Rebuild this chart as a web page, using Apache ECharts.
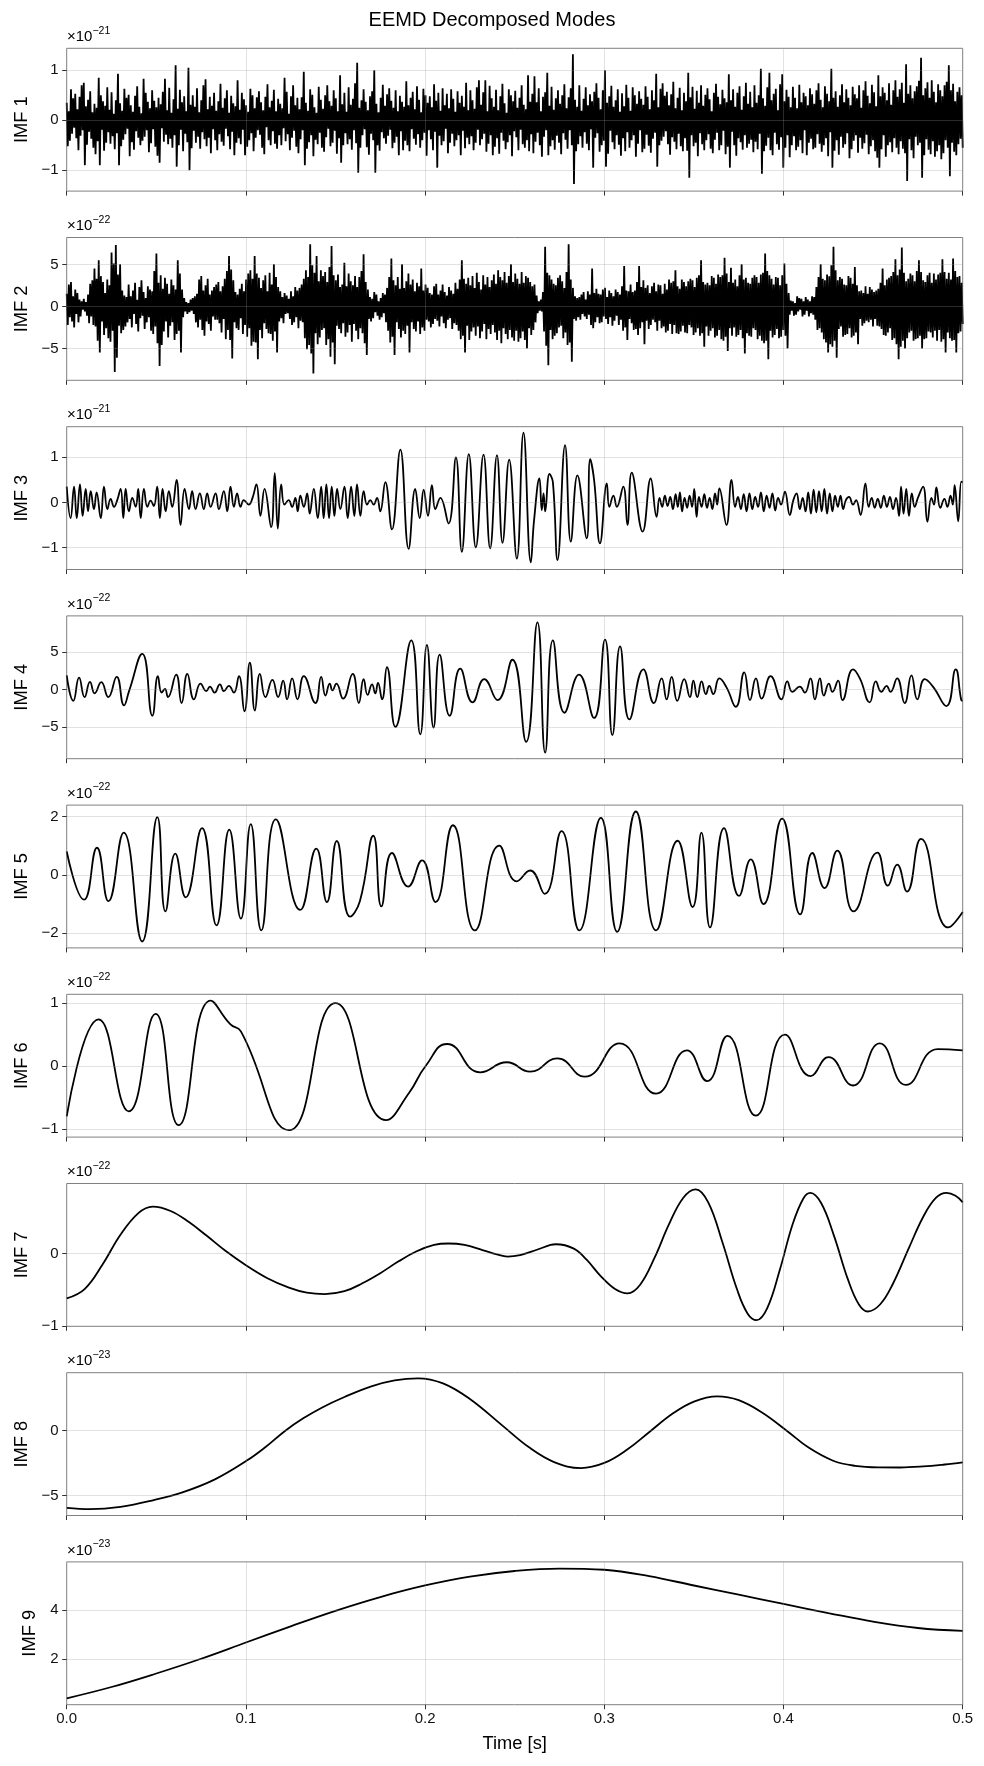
<!DOCTYPE html>
<html>
<head>
<meta charset="utf-8">
<script src="https://cdn.jsdelivr.net/npm/echarts@6/dist/echarts.min.js"></script>
<style>
html,body{margin:0;padding:0;background:#fff;}
#c{width:984px;height:1766px;}
</style>
</head>
<body>
<div id="c"></div>
<script>
// ---------------- DATA ----------------
const chartTitle = 'EEMD Decomposed Modes';
const xAxisName = 'Time [s]';
const duration = 0.5;                       // seconds
const xTickValues = [0, 0.1, 0.2, 0.3, 0.4, 0.5];
const modeNames = ['IMF 1','IMF 2','IMF 3','IMF 4','IMF 5','IMF 6','IMF 7','IMF 8','IMF 9'];
const exponents = [-21, -22, -21, -22, -22, -22, -22, -23, -23];
const yTickValues = [[-1,0,1],[-5,0,5],[-1,0,1],[-5,0,5],[-2,0,2],[-1,0,1],[-1,0],[-5,0],[2,4]];
const yRanges = [[-1.42,1.44],[-8.8,8.2],[-1.49,1.68],[-9.26,9.88],[-2.5,2.39],[-1.13,1.14],[-1.005,0.97],[-6.52,4.46],[0.15,5.96]];

// IMF 1 (x1e-21), evenly sampled over the 0.5 s record
const imf1 = [
.35,-.52,.18,-.41,.62,-.27,.44,-.15,.53,-.36,.22,-.6,.47,-.31,.7,-.2,.75,-.9,.28,-.49,
.41,-.23,.58,-.37,.16,-.55,.33,-.68,.25,-.42,.85,-.9,.5,-.19,.38,-.61,.29,-.45,.66,-.24,
.21,-.47,.56,-.32,.13,-.58,.4,-.26,.93,-.9,.34,-.52,.19,-.39,.63,-.28,.45,-.17,.51,-.72,
.3,-.44,.17,-.59,.49,-.22,.68,-.35,.27,-.5,.14,-.41,.83,-.33,.55,-.2,.37,-.64,.24,-.46,
.6,-.18,.39,-.53,.26,-.71,.45,-.85,.32,-.16,.57,-.43,.83,-.29,.2,-.48,.65,-.37,.15,-.55,
.42,-.3,1.1,-.93,.23,-.5,.61,-.19,.36,-.62,.48,-.27,.18,-.44,1.05,-1.0,.31,-.56,.5,-.21,
.27,-.45,.64,-.33,.16,-.57,.4,-.24,.7,-.38,.82,-.52,.22,-.35,.47,-.66,.29,-.18,.55,-.4,
.19,-.6,.38,-.28,.73,-.43,.25,-.51,.44,-.17,.6,-.32,.15,-.58,.49,-.23,.34,-.7,.28,-.45,
.8,-.36,.21,-.48,.55,-.19,.42,-.7,.3,-.53,.17,-.4,.63,-.26,.5,-.62,.24,-.35,.46,-.2,
.58,-.29,.36,-.55,.2,-.68,.47,-.14,.72,-.4,.26,-.5,.39,-.22,.61,-.47,.18,-.57,.43,-.3,
.33,-.5,.24,-.16,.85,-.42,.57,-.28,.13,-.6,.48,-.35,.7,-.21,.3,-.53,.45,-.66,.22,-.38,
.46,-.2,.97,-.9,.35,-.57,.19,-.44,.62,-.3,.51,-.72,.26,-.39,.15,-.48,.67,-.25,.41,-.55,
.23,-.63,.5,-.34,.7,-.17,.38,-.52,.29,-.45,.6,-.21,.44,-.67,.18,-.36,.9,-.85,.32,-.5,
.55,-.26,.17,-.48,.66,-.38,.31,-.59,.43,-.2,.74,-.46,1.15,-1.05,.25,-.55,.4,-.3,.62,-.18,
.37,-.54,.2,-.69,.48,-.27,.58,-.4,1.0,-1.05,.33,-.5,.16,-.61,.45,-.24,.71,-.36,.29,-.47,
.52,-.31,.64,-.19,.39,-.56,.25,-.45,.6,-.33,.18,-.7,.49,-.22,.37,-.6,.27,-.41,.78,-.5,
.3,-.62,.45,-.18,.57,-.37,.22,-.49,.68,-.28,.41,-.55,.16,-.4,.63,-.25,.5,-.71,.35,-.2,
.48,-.38,.26,-.6,.72,-.23,.39,-.95,.55,-.31,.19,-.5,.64,-.42,.3,-.17,.53,-.66,.24,-.45,
.62,-.27,.43,-.52,.17,-.4,.58,-.3,.35,-.7,.49,-.21,.27,-.56,.75,-.35,.2,-.48,.6,-.32,
.4,-.6,.23,-.45,.66,-.19,.8,-.5,.31,-.38,.56,-.27,.8,-.63,.18,-.47,.69,-.3,.44,-.7,
.27,-.53,.61,-.36,.2,-.67,.48,-.25,.73,-.41,.34,-.58,.15,-.44,.62,-.3,.5,-.72,.38,-.22,
.59,-.34,.25,-.6,.45,-.19,.7,-.48,.31,-.55,.22,-.4,.9,-.62,.37,-.28,.53,-.66,.88,-.43,
.36,-.25,.64,-.5,.18,-.73,.47,-.33,.56,-.2,.95,-.7,.29,-.52,.67,-.4,.21,-.59,.44,-.31,
.6,-.45,.33,-.68,.5,-.26,.72,-.39,.24,-.57,.46,-.2,.64,-.5,1.32,-1.28,.41,-.62,.27,-.48,
.7,-.32,.19,-.55,.43,-.24,.66,-.47,.3,-.6,.52,-.18,.38,-.95,.57,-.35,.74,-.26,.45,-.63,
.22,-.5,.6,-.41,1.0,-.93,.35,-.67,.48,-.21,.69,-.44,.27,-.58,.4,-.3,.62,-.49,.17,-.71,
.54,-.36,.28,-.62,.71,-.24,.45,-.55,.19,-.4,.66,-.3,.5,-.73,.33,-.47,.58,-.2,.43,-.64,
.31,-.57,.68,-.29,.47,-.51,.22,-.65,.6,-.37,.4,-.25,.93,-.93,.26,-.5,.63,-.41,.74,-.33,
.49,-.22,.57,-.48,.3,-.69,.52,-.34,.77,-.43,.24,-.58,.45,-.27,.65,-.52,.2,-.62,.55,-.36,
.38,-.61,.95,-1.15,.46,-.3,.67,-.52,.23,-.45,.59,-.72,.35,-.26,.7,-.48,.29,-.6,.51,-.4,
.64,-.28,.42,-.57,.18,-.66,.55,-.39,.73,-.25,.47,-.6,.32,-.5,.61,-.21,.44,-.68,.36,-.53,
.92,-.95,.4,-.23,.62,-.5,.27,-.71,.55,-.36,.68,-.44,.21,-.59,.48,-.3,.75,-.55,.33,-.47,
.57,-.39,.26,-.64,.7,-.43,.35,-.58,.5,-.27,1.03,-1.07,.44,-.62,.29,-.51,.66,-.35,.95,-.6,
.4,-.7,.53,-.25,.63,-.48,.2,-.59,.72,-.34,.92,-.95,.38,-.55,.61,-.3,.47,-.74,.26,-.5,
.67,-.32,.45,-.6,.24,-.53,.71,-.4,.36,-.66,.55,-.2,.48,-.7,.3,-.45,.64,-.37,.52,-.58,
.33,-.55,.6,-.28,.74,-.47,.41,-.63,.26,-.5,.68,-.36,.53,-.72,.38,-.24,1.03,-.95,.45,-.61,
.58,-.4,.27,-.69,.5,-.33,.72,-.55,.36,-.48,.62,-.26,.45,-.76,.3,-.58,.67,-.41,.52,-.3,
.44,-.65,.7,-.35,.25,-.57,.6,-.46,.78,-.29,.49,-.68,.34,-.52,.71,-.4,.56,-.62,.28,-.75,
.9,-.95,.48,-.58,.66,-.3,.55,-.73,.4,-.5,.74,-.44,.31,-.64,.6,-.36,.8,-.55,.47,-.68,
.62,-.42,.75,-.57,.35,-.66,1.12,-1.22,.53,-.38,.7,-.6,.44,-.76,.58,-.33,.68,-.5,.79,-.45,
1.25,-1.15,.5,-.7,.64,-.38,.76,-.59,.45,-.68,.8,-.42,.57,-.73,.36,-.62,.72,-.5,.6,-.78,
.48,-.66,.7,-.4,.77,-.55,1.1,-1.12,.6,-.45,.73,-.63,.38,-.7,.57,-.48,.66,-.37,.5,-.55
];

// IMF 2 (x1e-22), evenly sampled
const imf2 = [
1.5,-2.2,2.6,-1.3,2.9,-1.8,1.2,-2.5,2.0,-0.9,1.6,-1.9,0.8,-1.2,0.6,-0.4,0.9,-0.6,0.5,-1.1,
1.4,-2.0,2.7,-1.2,3.1,-2.2,4.5,-2.4,3.3,-4.1,5.5,-5.5,3.6,-1.8,2.9,-3.4,1.6,-2.6,3.2,-3.8,
2.5,-4.2,6.4,-2.9,5.1,-7.8,7.3,-6.1,3.8,-2.3,5.0,-3.2,1.9,-2.8,1.3,-2.4,1.1,-1.9,2.6,-1.5,
1.2,-2.5,1.9,-0.9,2.8,-2.1,0.8,-3.0,2.3,-1.4,3.1,-1.1,1.7,-2.7,1.0,-1.9,2.4,-1.3,2.0,-2.9,
1.8,-3.3,4.2,-2.4,6.3,-4.4,2.8,-7.1,3.7,-4.6,2.1,-3.0,3.4,-1.8,2.7,-3.7,1.5,-2.3,3.2,-1.9,
2.5,-4.0,2.0,-3.3,5.5,-2.9,3.9,-5.5,2.0,-1.3,1.0,-0.6,0.5,-0.9,0.4,-0.7,0.8,-0.5,1.0,-0.9,
1.2,-1.9,1.5,-2.5,3.2,-1.6,3.6,-2.8,1.9,-3.5,2.5,-1.8,3.3,-2.1,1.4,-2.9,1.9,-1.2,2.3,-1.6,
2.6,-1.6,2.9,-2.0,1.8,-3.1,2.4,-1.5,3.3,-3.9,4.2,-2.8,6.0,-4.0,4.4,-6.2,3.1,-1.9,1.7,-2.6,
1.4,-2.8,2.1,-1.4,2.7,-3.3,1.8,-2.2,3.2,-3.6,3.9,-2.6,4.3,-4.7,3.3,-4.2,6.0,-4.3,3.9,-6.3,
3.4,-2.8,2.2,-3.8,3.1,-2.0,3.7,-2.7,1.8,-3.2,4.0,-3.3,2.6,-4.1,5.0,-3.0,3.5,-5.5,2.3,-1.8,
1.8,-1.4,1.1,-2.0,1.6,-0.9,1.3,-0.8,0.9,-1.5,1.8,-2.2,1.2,-1.9,2.3,-1.3,1.9,-2.6,2.2,-1.7,
2.6,-1.9,3.3,-3.8,4.3,-5.1,3.5,-4.6,7.4,-5.6,4.9,-8.0,4.0,-3.2,6.0,-4.5,3.0,-3.7,4.3,-2.8,
3.6,-2.6,4.1,-4.6,2.9,-3.9,4.7,-6.0,7.2,-4.3,3.7,-6.9,3.1,-2.3,3.8,-2.7,2.3,-3.2,2.6,-2.0,
5.2,-3.6,2.4,-3.1,3.9,-2.2,3.0,-4.2,2.5,-2.1,3.6,-2.9,2.3,-3.9,3.5,-2.6,4.2,-3.2,6.2,-4.4,
2.9,-5.8,2.0,-1.5,1.1,-1.8,0.9,-1.4,1.7,-0.7,1.4,-1.1,0.6,-1.6,1.0,-1.3,1.6,-0.8,1.4,-1.9,
2.2,-2.9,3.5,-4.3,5.7,-3.6,3.1,-5.8,2.5,-1.9,3.5,-2.7,2.1,-3.7,5.0,-2.9,2.2,-3.3,3.0,-2.3,
3.9,-5.5,2.6,-1.9,3.2,-2.7,1.8,-3.0,2.8,-1.8,2.4,-3.3,4.5,-2.5,1.9,-2.9,2.6,-1.6,2.2,-1.8,
1.6,-2.5,1.4,-2.1,2.4,-1.5,2.7,-1.7,1.4,-2.4,1.9,-1.2,2.6,-2.0,1.7,-2.6,1.3,-1.6,2.3,-1.4,
1.9,-2.7,1.5,-2.0,2.8,-2.2,2.1,-2.9,3.2,-3.9,5.5,-3.5,3.3,-5.5,2.7,-2.3,3.4,-4.0,2.5,-3.0,
3.6,-2.5,2.2,-3.5,4.0,-2.4,2.9,-3.8,2.0,-3.0,3.7,-2.1,2.6,-3.9,3.5,-2.7,2.3,-3.3,3.1,-2.2,
3.8,-3.1,2.7,-4.0,4.3,-2.9,3.5,-4.4,3.1,-2.6,4.1,-3.3,2.8,-3.9,3.6,-2.8,5.0,-3.7,2.9,-4.1,
3.9,-2.9,3.3,-4.2,2.7,-3.8,4.1,-3.0,2.8,-4.0,3.6,-5.0,3.4,-2.6,2.9,-3.4,2.4,-2.8,2.6,-1.9,
1.3,-0.8,0.6,-0.5,0.8,-0.6,1.7,-3.0,7.1,-4.7,4.0,-7.0,3.7,-2.8,3.2,-3.9,2.7,-3.5,2.5,-3.2,
3.4,-2.5,3.7,-2.3,3.0,-3.8,2.2,-3.1,4.1,-4.6,7.4,-4.3,3.2,-6.6,2.2,-1.5,1.2,-1.7,1.0,-1.3,
1.1,-1.6,1.4,-0.9,1.7,-1.2,0.8,-1.5,1.8,-1.0,1.4,-2.2,4.5,-2.6,1.6,-1.9,2.1,-1.3,1.5,-2.0,
1.4,-1.9,2.0,-1.2,2.2,-1.5,1.1,-2.1,1.9,-1.3,1.6,-2.3,1.2,-1.7,2.0,-1.1,1.7,-2.2,1.4,-1.6,
2.4,-2.9,4.8,-2.5,1.9,-4.0,1.8,-1.5,2.6,-2.0,1.7,-2.8,1.9,-2.7,2.9,-3.4,4.8,-2.6,2.3,-1.9,
3.1,-4.5,2.2,-1.7,2.5,-2.7,1.6,-2.2,2.4,-1.6,2.8,-1.9,1.8,-2.9,2.6,-1.7,2.5,-2.6,1.5,-2.4,
2.7,-3.1,2.0,-2.9,3.2,-2.1,2.8,-3.3,3.0,-2.2,4.3,-3.2,2.4,-3.3,2.1,-3.0,3.2,-2.3,2.9,-3.1,
2.4,-3.2,3.0,-2.2,3.3,-2.5,3.1,-3.4,2.3,-3.1,3.4,-2.6,3.7,-3.5,5.5,-3.2,2.9,-4.8,2.6,-2.4,
2.8,-3.5,2.5,-2.9,3.6,-2.6,3.4,-3.7,2.7,-3.5,3.8,-2.8,3.5,-3.9,3.7,-4.1,5.8,-3.6,3.9,-5.3,
2.9,-2.6,4.6,-3.5,2.8,-2.5,3.2,-3.6,2.4,-3.4,3.7,-2.8,5.0,-3.8,3.2,-5.6,3.4,-3.2,2.8,-3.5,
2.7,-3.6,3.4,-2.6,3.7,-2.8,3.5,-3.9,2.8,-3.5,3.8,-4.1,4.0,-4.4,6.3,-4.1,4.2,-6.3,3.7,-2.9,
3.3,-3.7,2.6,-3.4,3.5,-2.7,3.4,-3.8,2.5,-3.6,3.7,-2.8,5.1,-3.5,2.7,-5.0,1.6,-1.0,0.7,-0.5,
0.6,-1.1,0.4,-1.0,1.2,-0.6,1.0,-0.4,0.9,-1.2,0.6,-1.0,1.1,-0.5,0.8,-1.2,0.6,-0.8,1.2,-1.0,
1.1,-1.6,2.3,-2.8,3.5,-2.6,5.0,-3.1,3.3,-3.9,3.1,-4.3,3.8,-5.5,3.6,-4.5,4.9,-4.8,7.1,-4.1,
4.3,-6.1,3.1,-2.7,3.5,-2.4,3.3,-3.6,2.6,-3.4,2.5,-3.3,3.6,-2.6,3.4,-3.7,2.7,-3.5,4.7,-3.1,
2.5,-4.5,1.8,-1.5,1.9,-2.3,1.6,-2.0,2.4,-1.7,1.5,-1.9,2.3,-1.6,2.0,-2.4,1.7,-1.5,1.9,-2.3,
2.1,-2.4,2.8,-2.7,4.5,-3.4,2.5,-3.5,3.2,-3.1,3.4,-2.6,3.6,-4.0,4.1,-3.8,5.6,-4.5,3.7,-6.3,
4.4,-4.8,7.0,-4.1,4.0,-5.0,3.0,-3.8,3.3,-3.1,3.9,-2.9,3.7,-4.1,3.0,-3.9,4.2,-3.8,5.5,-3.5,
4.1,-5.0,3.1,-3.9,2.9,-3.8,3.7,-3.0,4.0,-3.1,2.8,-3.7,3.9,-2.9,3.2,-4.1,3.8,-2.8,4.0,-4.2,
5.6,-3.9,4.1,-5.5,3.3,-3.1,4.0,-3.8,3.2,-4.1,5.7,-4.0,4.2,-5.5,3.5,-3.2,3.6,-3.0,2.8,-2.1
];

// IMF 3 (x1e-21): [time ms, value] at turning points
const imf3 = [
[0,.35],[2.2,-.35],[4.1,.35],[5.6,-.35],[7.4,.4],[8.9,-.3],[10.6,.3],[11.9,-.2],[13.4,.25],[15.2,-.15],
[16.7,.22],[19,-.35],[20.8,.35],[22.7,-.15],[24.5,.08],[26.4,-.1],[28.2,.05],[30.1,.3],[31.6,-.35],[32.9,.3],
[34.7,-.2],[36.6,.1],[38.5,-.1],[39.9,.3],[41.3,-.35],[43.1,.3],[45,-.1],[46.8,.04],[48.6,-.08],[50.5,.35],
[52,-.35],[53.5,.3],[55.2,-.2],[57,.25],[58.9,-.1],[61.3,.5],[63.5,-.5],[65.8,.3],[68.2,-.15],[70,.25],
[71.9,-.15],[74.3,.2],[76.5,-.15],[78.4,.2],[80.3,-.1],[83.1,.2],[84.9,-.15],[87.7,.25],[89.6,-.2],[91.4,.35],
[93.3,-.1],[95.1,.2],[97,-.1],[98.8,.05],[101.6,-.05],[103.7,.1],[105.9,.4],[108.1,-.3],[110.4,.3],[114.1,-.55],
[116.1,.65],[117.8,-.58],[119.7,.4],[121.5,-.05],[123.9,.05],[125.8,-.1],[127.6,.1],[128.9,-.2],[130.4,.15],[132.3,-.1],
[134.2,.2],[135.6,-.25],[137.9,.3],[140.1,-.35],[142,.35],[143.4,-.35],[144.9,.4],[146.4,-.35],[147.9,.35],[149.4,-.3],
[150.9,.3],[152.7,-.15],[155,.35],[156.8,-.35],[158.7,.35],[160.5,-.3],[162,.4],[163.9,-.3],[165.7,.25],[167.6,-.05],
[169.4,.05],[171.3,-.05],[173.2,.1],[175,-.2],[177.8,.45],[181.5,-.6],[186.2,1.17],[190.8,-1.03],[194.5,.3],[197,-.35],
[199.2,.28],[201.6,-.3],[203.8,.38],[205.7,-.15],[208.5,.1],[213.1,-.47],[217.2,1.0],[220.5,-1.1],[224.4,1.07],[228.3,-1.0],
[232.6,1.06],[236.3,-1.02],[240.1,1.05],[243.2,-.9],[246.9,.95],[251.2,-1.25],[254.9,1.55],[259,-1.33],[260.8,-.4],[263.8,.53],
[265.1,-.17],[266.1,.2],[267,-.2],[269.4,.63],[271.3,.45],[273.9,-1.28],[278.1,1.27],[281.3,-.87],[285,.6],[290.2,-.8],
[292.1,.96],[294.3,.5],[297.6,-.91],[301.4,.42],[302.8,-.1],[305.1,.15],[307,-.1],[310.6,.35],[312.9,-.5],[315.3,.66],
[321.4,-.65],[325.9,.53],[329.2,-.32],[330.8,.1],[332.3,-.1],[333.8,.15],[335.3,-.08],[336.8,.12],[338.3,-.15],[339.8,.18],
[341,-.1],[342.2,.22],[343.4,-.2],[344.8,.1],[346.2,-.12],[347.6,.15],[349,-.1],[350.2,.3],[351.5,-.32],[352.8,.12],
[354.3,-.1],[355.8,.18],[357.3,-.12],[358.8,.1],[360.3,-.15],[361.8,.2],[363,-.05],[364.2,.31],[368.2,-.5],[371,.5],
[373,-.1],[374.6,.12],[376.2,-.15],[377.8,.18],[379.4,-.2],[381,.2],[382.6,-.15],[384.2,.12],[385.8,-.1],[387.4,.22],
[389,-.2],[390.6,.15],[392.2,-.12],[393.8,.2],[395.4,-.18],[397,.1],[398.6,-.05],[400.8,.24],[403.5,-.28],[405.5,.05],
[407.3,.2],[409.1,-.15],[410.7,.1],[412.3,-.2],[413.8,.22],[415.3,-.25],[416.8,.28],[418.3,-.22],[419.8,.25],[421.3,-.2],
[422.8,.3],[424.3,-.25],[425.8,.2],[427.3,-.2],[428.8,.15],[430.3,-.1],[431.8,.15],[433.3,-.15],[434.8,.05],[436.6,.12],
[438.8,-.05],[440.5,.05],[443,-.28],[445.7,.42],[447.5,-.1],[449.2,.1],[450.9,-.12],[452.6,.08],[454.3,-.12],[456,.15],
[457.7,-.1],[459.4,.12],[461.1,-.15],[462.8,.1],[464.5,-.3],[465.6,.35],[467,-.25],[468.5,.3],[470,-.3],[471.6,.2],
[473.2,-.1],[475,.1],[477.9,.35],[480.3,-.43],[482.5,.1],[484,-.05],[485.3,.33],[487.5,-.12],[489.8,.08],[491.5,-.1],
[493.2,.15],[494.5,-.05],[495.5,.38],[497.5,-.42],[499.2,.46],[500,.44]
];

// IMF 4 (x1e-22)
const imf4 = [
[0,1.9],[3.7,-1.5],[6.9,1.6],[10,-1.0],[13,1.05],[15.6,-.5],[19.3,1.0],[23.2,-1.0],[27.9,1.7],[32,-2.1],
[34.8,-.2],[42.2,4.8],[47.8,-3.5],[50.9,1.8],[53,-.4],[54.8,.1],[56.5,-1.0],[61.1,2.0],[64.1,-1.8],[67.3,2.1],
[71,-1.3],[74.7,.8],[77.9,-.2],[79.9,.4],[82.5,-.4],[85.5,.7],[87.7,-.2],[90.5,.5],[93.3,-.4],[96.1,1.8],
[99.2,-2.9],[102.2,3.6],[105,-2.8],[107.8,2.1],[110.9,-1.0],[114.8,1.3],[118,-1.0],[120.8,1.2],[123,-1.3],[125.8,1.5],
[128.8,-1.3],[132.3,1.8],[138.8,-1.8],[142,1.7],[144.4,-.8],[146.8,.8],[148.3,-.1],[150.5,.8],[154.2,-1.2],[159.6,2.1],
[163,-1.8],[165.7,1.4],[167.9,-.7],[170.4,.7],[172.2,-.5],[173.7,.9],[176,-1.3],[178.7,3.0],[183.4,-5.0],[192.3,6.6],
[197.3,-6.0],[201,6.0],[204.7,-5.1],[208.1,4.7],[213.7,-3.5],[219.6,2.8],[226.5,-1.7],[233,1.4],[240.4,-1.4],[248.7,4.0],
[256.4,-7.0],[262.7,9.0],[267,-8.45],[271.3,6.6],[277.8,-3.1],[285.9,2.0],[294.3,-3.8],[300.4,6.7],[304.5,-6.1],[308.8,5.8],
[314,-4.0],[321.8,2.7],[327.7,-1.8],[332,1.5],[334.8,-1.3],[337.6,1.7],[340.7,-1.5],[344.6,1.4],[347.8,-1.0],[349.7,1.2],
[351.9,-1.0],[354.3,1.1],[356.7,-.6],[358.6,.5],[360.8,-.6],[364.2,1.5],[368.2,.3],[373.4,-2.3],[378.1,2.3],[381.3,-1.4],
[384.6,1.5],[387.8,-1.2],[392.8,1.8],[398.9,-1.3],[402.1,1.1],[405,-.3],[409.1,.4],[411.9,-.4],[415.1,1.5],[417.5,-1.3],
[420.3,1.5],[422.5,-.8],[425.3,.8],[427.3,-.3],[430.5,1.2],[432.9,-1.4],[438.8,2.7],[442.6,1.5],[448.1,-1.7],[451.5,1.1],
[454.6,-.3],[457.5,.5],[459.7,-.3],[463.4,1.5],[467.6,-1.8],[471.4,1.9],[474.7,-1.3],[478.8,1.4],[483.4,.4],[490.9,-2.2],
[496.1,2.7],[499.2,-1.4],[500,-1.5]
];

// IMF 5 (x1e-22)
const imf5 = [
[0,.8],[9.7,-.85],[16.9,.93],[23.3,-.9],[31.8,1.45],[42.1,-2.28],[50.6,1.98],[55.1,-1.25],[60.6,.73],[66.4,-.77],
[75.5,1.6],[83.6,-1.73],[90.7,1.55],[97.2,-1.5],[102.7,1.74],[108.6,-1.9],[116.7,1.9],[130.3,-1.2],[139.3,.9],[145.2,-.93],
[150.7,1.16],[158.1,-1.43],[163.6,-.9],[171.1,1.34],[175.6,-1.08],[181.5,.75],[190.5,-.4],[198.3,.5],[205.8,-.93],[215.5,1.7],
[227.8,-1.9],[241.4,1.0],[251.1,-.22],[258.6,.15],[266.7,-.65],[276.1,1.5],[286.1,-1.9],[298.1,1.95],[307.2,-1.95],[317.6,2.17],
[328.9,-1.9],[340.9,1.17],[349.3,-1.1],[354.2,1.45],[359,-1.8],[366.8,1.6],[375.2,-.72],[381.7,.53],[388.8,-1.0],[399.2,1.93],
[409.3,-1.35],[416.1,.75],[422.9,-.45],[430,.83],[439.1,-1.25],[452.4,.76],[458.2,-.37],[463.4,.35],[468.9,-.57],[476.7,1.23],
[491.9,-1.8],[500,-1.27]
];

// IMF 6 (x1e-22)
const imf6 = [
[0,-.8],[17.8,.74],[34.7,-.72],[49.6,.83],[62.5,-.94],[80.4,1.04],[91.4,.66],[97.2,.55],[124.1,-1.02],[150,1.0],
[178.2,-.86],[191.2,-.42],[200.3,0],[212.3,.35],[230.8,-.1],[245.6,.06],[258.6,-.09],[273.8,.12],[289,-.17],[308.5,.36],
[328.9,-.44],[346.1,.25],[357.4,-.24],[368.7,.48],[384.6,-.79],[400.8,.5],[415.1,-.16],[425.1,.14],[438.7,-.31],[453.7,.36],
[468.3,-.3],[486.1,.27],[500,.25]
];

// IMF 7 (x1e-22)
const imf7 = [
[0,-.62],[10,-.49],[20,-.15],[30,.26],[40,.56],[48,.65],[58,.59],[68,.44],[78,.25],[88,.05],
[100,-.16],[112,-.34],[124,-.47],[134,-.54],[144,-.56],[155,-.52],[165,-.41],[175,-.27],[185,-.11],[195,.03],
[205,.12],[213,.14],[222,.12],[232,.05],[240,-.01],[246,-.04],[253,-.02],[262,.05],[270,.12],[273,.13],
[283,.07],[290,-.08],[298,-.31],[306,-.49],[313,-.55],[320,-.43],[328,-.06],[336,.4],[344,.77],[351,.89],
[358,.71],[366,.15],[374,-.49],[380,-.83],[385,-.92],[391,-.75],[398,-.22],[405,.4],[411,.76],[415,.84],
[421,.7],[428,.26],[436,-.36],[442,-.7],[447,-.8],[454,-.7],[461,-.42],[470,.08],[478,.51],[485,.77],
[491,.84],[496,.8],[500,.71]
];

// IMF 8 (x1e-23)
const imf8 = [
[0,-5.93],[13,-6.03],[30,-5.85],[48.6,-5.33],[65,-4.72],[83,-3.72],[100.5,-2.3],[111,-1.25],[122,0],[132,.95],
[142.6,1.79],[155,2.59],[170,3.41],[183,3.87],[196,4.03],[210,3.64],[225,2.44],[243,.41],[258,-1.28],[272,-2.41],
[287,-2.87],[300,-2.48],[313,-1.43],[325,-.12],[338,1.3],[350,2.24],[363,2.64],[375,2.35],[388,1.4],[401.8,0],
[414,-1.3],[427.7,-2.31],[440,-2.7],[453,-2.82],[465,-2.83],[478,-2.75],[490,-2.6],[500,-2.44]
];

// IMF 9 (x1e-23)
const imf9 = [
[0,.41],[25,.87],[50,1.42],[75,2.02],[100,2.68],[125,3.34],[150,3.97],[175,4.53],[200,5.0],[225,5.36],
[250,5.59],[275,5.69],[300,5.64],[325,5.38],[350,5.0],[375,4.63],[400,4.25],[425,3.88],[450,3.53],[475,3.27],
[500,3.15]
];

// ---------------- BUILD ----------------
const FONT = '"Liberation Sans", Arial, Helvetica, sans-serif';
const MINUS = '\u2212';
const PLOT_LEFT = 66.7, PLOT_WIDTH = 896, PANEL_TOP0 = 48.3, PANEL_STEP = 189.2, PANEL_H = 142.8;
const nameGaps = [35,35,35,35,35,35,35,35,27];

const uniform = arr => arr.map((v, i) => [i * duration / (arr.length - 1), v]);
const timed = arr => arr.map(p => [p[0] / 1000, p[1]]);
const modeData = [uniform(imf1), uniform(imf2), timed(imf3), timed(imf4), timed(imf5),
                  timed(imf6), timed(imf7), timed(imf8), timed(imf9)];
const smoothFlags = [false, false, 0.45, 0.5, 0.5, 0.5, 0.4, 0.4, 0.4];
const lineWidths = [1.8, 1.8, 1.8, 1.8, 1.8, 1.8, 1.8, 1.8, 1.8];

const fmtNum = v => (v < 0 ? MINUS : '') + Math.abs(v);
const gridLine = { show: true, lineStyle: { color: 'rgba(150,150,150,0.28)', width: 1 } };

const grids = [], xAxes = [], yAxes = [], series = [];
const titles = [{
  text: chartTitle, left: 'center', top: 10.5, padding: 0,
  textStyle: { fontSize: 20, fontWeight: 'normal', color: '#000', fontFamily: FONT }
}];

modeNames.forEach((name, k) => {
  const top = PANEL_TOP0 + k * PANEL_STEP;
  const last = k === modeNames.length - 1;
  grids.push({
    left: PLOT_LEFT, top: top, width: PLOT_WIDTH, height: PANEL_H,
    show: true, borderColor: '#808080', borderWidth: 1, backgroundColor: 'transparent',
    containLabel: false, outerBoundsMode: 'none'
  });
  xAxes.push({
    gridIndex: k, type: 'value', min: 0, max: duration, interval: 0.1, z: 3,
    axisLine: { show: false, onZero: false },
    axisTick: { show: true, length: 4.5, lineStyle: { color: '#333', width: 1 } },
    axisLabel: { show: last, fontSize: 15, color: '#111', fontFamily: FONT, margin: 7,
                 formatter: v => v.toFixed(1) },
    splitLine: gridLine,
    name: last ? xAxisName : '', nameLocation: 'middle', nameGap: 30,
    nameTextStyle: { fontSize: 18.3, color: '#000', fontFamily: FONT }
  });
  yAxes.push({
    gridIndex: k, type: 'value', min: yRanges[k][0], max: yRanges[k][1], z: 3,
    axisLine: { show: false, onZero: false },
    axisTick: { show: true, length: 4.5, customValues: yTickValues[k], lineStyle: { color: '#333', width: 1 } },
    axisLabel: { customValues: yTickValues[k], fontSize: 15, color: '#111', fontFamily: FONT, margin: 8,
                 formatter: fmtNum },
    splitLine: gridLine,
    name: name, nameLocation: 'middle', nameRotate: 90, nameGap: nameGaps[k],
    nameTextStyle: { fontSize: 18.3, color: '#000', fontFamily: FONT }
  });
  series.push({
    type: 'line', xAxisIndex: k, yAxisIndex: k, data: modeData[k],
    showSymbol: false, symbol: 'none', smooth: smoothFlags[k], silent: true,
    lineStyle: { color: '#000', width: lineWidths[k] }, z: 2, animation: false
  });
  titles.push({
    text: '{b|\u00d710}{s|' + MINUS + Math.abs(exponents[k]) + '}',
    left: 67, top: top - 23, padding: 0,
    textStyle: {
      fontWeight: 'normal',
      rich: {
        b: { fontSize: 15, lineHeight: 19, verticalAlign: 'bottom', color: '#000', fontFamily: FONT, fontWeight: 'normal' },
        s: { fontSize: 10.5, lineHeight: 12, verticalAlign: 'top', color: '#000', fontFamily: FONT, fontWeight: 'normal' }
      }
    }
  });
});

const chart = echarts.init(document.getElementById('c'), null, { renderer: 'canvas', width: 984, height: 1766 });
chart.setOption({
  animation: false,
  backgroundColor: '#fff',
  title: titles,
  grid: grids,
  xAxis: xAxes,
  yAxis: yAxes,
  series: series
});
</script>
</body>
</html>
